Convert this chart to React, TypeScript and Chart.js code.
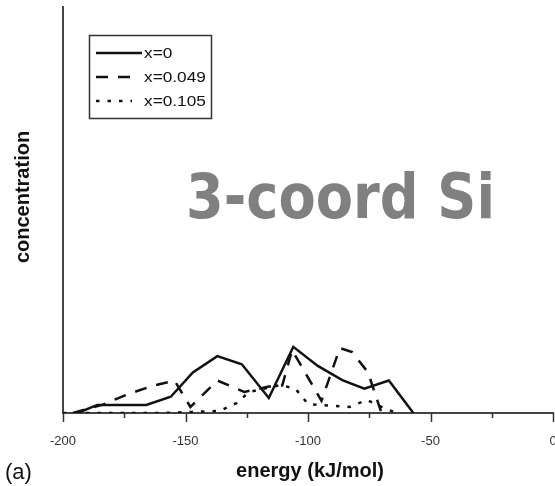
import React, { useEffect, useRef } from 'react';
import { Chart, registerables } from 'chart.js';

Chart.register(...registerables);

// ---- data ----
const xTickValues = [-200, -150, -100, -50, 0];
const seriesLabels = ['x=0', 'x=0.049', 'x=0.105'];

const energyA = [-194, -186, -176, -166, -156, -147, -137, -127, -116, -106, -96, -86, -77, -67, -57];
const concA = [0, 2, 2, 2, 4, 10, 14, 12, 3.7, 16.3, 11.6, 8.1, 6, 8, 0];

const energyB = [-196, -184, -174, -164.5, -154.5, -148, -137, -126, -116, -110.5, -106.5, -94.5, -87, -82, -75.5, -70];
const concB = [0, 2, 4.5, 6.5, 8, 1.5, 8, 5.2, 6.5, 6.8, 15.5, 3, 16, 15, 10, 0];

const energyC = [-200, -160, -136, -129, -124, -111, -105, -100, -83, -76, -70, -64];
const concC = [0, 0, 0.5, 2.5, 5.2, 6.9, 5.9, 2.2, 1.5, 3.2, 1.5, 0];

const xTitle = 'energy (kJ/mol)';
const yTitle = 'concentration';
const panelLabel = '(a)';
const bigLabel = '3-coord Si';

const FONT = '"Liberation Sans", Arial, sans-serif';

function toPoints(xs: number[], ys: number[]) {
  return xs.map((x, i) => ({ x, y: ys[i] }));
}

const legendLineEnds = [142, 133, 132];

const decorPlugin = {
  id: 'decor',
  afterDraw(chart: any) {
    const ctx = chart.ctx as CanvasRenderingContext2D;
    const xs = chart.scales.x;
    const area = chart.chartArea;
    ctx.save();

    // x ticks (major every 50, minor every 25)
    ctx.strokeStyle = '#333';
    ctx.lineWidth = 1.5;
    for (let v = -200; v <= 0; v += 25) {
      const px = Math.round(xs.getPixelForValue(v)) + 0.5;
      const major = v % 50 === 0;
      ctx.beginPath();
      ctx.moveTo(px, area.bottom);
      ctx.lineTo(px, area.bottom + (major ? 9 : 5));
      ctx.stroke();
    }

    // tick labels
    ctx.fillStyle = '#333';
    ctx.font = `13px ${FONT}`;
    ctx.textAlign = 'center';
    ctx.textBaseline = 'middle';
    for (const v of xTickValues) {
      ctx.fillText(String(v), xs.getPixelForValue(v), 441);
    }

    // x title
    ctx.fillStyle = '#111';
    ctx.font = `bold 20px ${FONT}`;
    ctx.fillText(xTitle, 310, 471);

    // panel label
    ctx.font = `22px ${FONT}`;
    ctx.textAlign = 'left';
    ctx.fillText(panelLabel, 5, 473);

    // y title
    ctx.save();
    ctx.translate(23, 197);
    ctx.rotate(-Math.PI / 2);
    ctx.textAlign = 'center';
    ctx.font = `bold 20px ${FONT}`;
    ctx.fillText(yTitle, 0, 0);
    ctx.restore();

    // big annotation text
    ctx.save();
    ctx.fillStyle = '#808080';
    ctx.font = `bold 62px "DejaVu Sans", sans-serif`;
    ctx.textAlign = 'left';
    ctx.textBaseline = 'alphabetic';
    const w = ctx.measureText(bigLabel).width;
    const sx = 309 / w;
    ctx.translate(186, 218);
    ctx.scale(sx, 1);
    ctx.fillText(bigLabel, 0, 0);
    ctx.restore();

    // legend
    const lx = 89.5, ly = 35.5, lw = 122, lh = 83;
    ctx.strokeStyle = '#333';
    ctx.lineWidth = 1.5;
    ctx.setLineDash([]);
    ctx.strokeRect(lx, ly, lw, lh);
    const rows = [53, 77, 101];
    chart.data.datasets.forEach((ds: any, i: number) => {
      ctx.save();
      ctx.strokeStyle = ds.borderColor;
      ctx.lineWidth = ds.borderWidth;
      ctx.setLineDash(ds.borderDash || []);
      ctx.beginPath();
      ctx.moveTo(96, rows[i]);
      ctx.lineTo(legendLineEnds[i], rows[i]);
      ctx.stroke();
      ctx.restore();
      ctx.save();
      ctx.fillStyle = '#111';
      ctx.font = `15px ${FONT}`;
      ctx.textAlign = 'left';
      ctx.textBaseline = 'middle';
      ctx.translate(144, rows[i] + 1);
      ctx.scale(1.15, 1);
      ctx.fillText(ds.label, 0, 0);
      ctx.restore();
    });

    ctx.restore();
  },
};

export default function App() {
  const canvasRef = useRef<HTMLCanvasElement | null>(null);

  useEffect(() => {
    if (!canvasRef.current) return;
    const chart = new Chart(canvasRef.current, {
      type: 'line',
      data: {
        datasets: [
          {
            label: seriesLabels[0],
            data: toPoints(energyA, concA),
            borderColor: '#111',
            borderWidth: 2.5,
            borderDash: [],
            pointRadius: 0,
            tension: 0,
            fill: false,
          },
          {
            label: seriesLabels[1],
            data: toPoints(energyB, concB),
            borderColor: '#111',
            borderWidth: 2.5,
            borderDash: [12, 10],
            pointRadius: 0,
            tension: 0,
            fill: false,
          },
          {
            label: seriesLabels[2],
            data: toPoints(energyC, concC),
            borderColor: '#111',
            borderWidth: 2.5,
            borderDash: [3.5, 8],
            pointRadius: 0,
            tension: 0,
            fill: false,
          },
        ],
      },
      options: {
        animation: false,
        responsive: false,
        maintainAspectRatio: false,
        layout: { padding: { left: 63, right: 2, top: 7, bottom: 73 } },
        plugins: { legend: { display: false }, tooltip: { enabled: false } },
        scales: {
          x: {
            type: 'linear',
            min: -200,
            max: 0,
            ticks: { display: false },
            grid: { display: false, drawTicks: false },
            border: { display: true, color: '#444', width: 2 },
          },
          y: {
            type: 'linear',
            min: 0,
            max: 100,
            ticks: { display: false },
            grid: { display: false, drawTicks: false },
            border: { display: true, color: '#444', width: 2 },
          },
        },
      },
      plugins: [decorPlugin],
    });
    return () => chart.destroy();
  }, []);

  return (
    <div style={{ position: 'fixed', left: 0, top: 0, width: 555, height: 486, background: '#fff' }}>
      <canvas ref={canvasRef} width={555} height={486} />
    </div>
  );
}
